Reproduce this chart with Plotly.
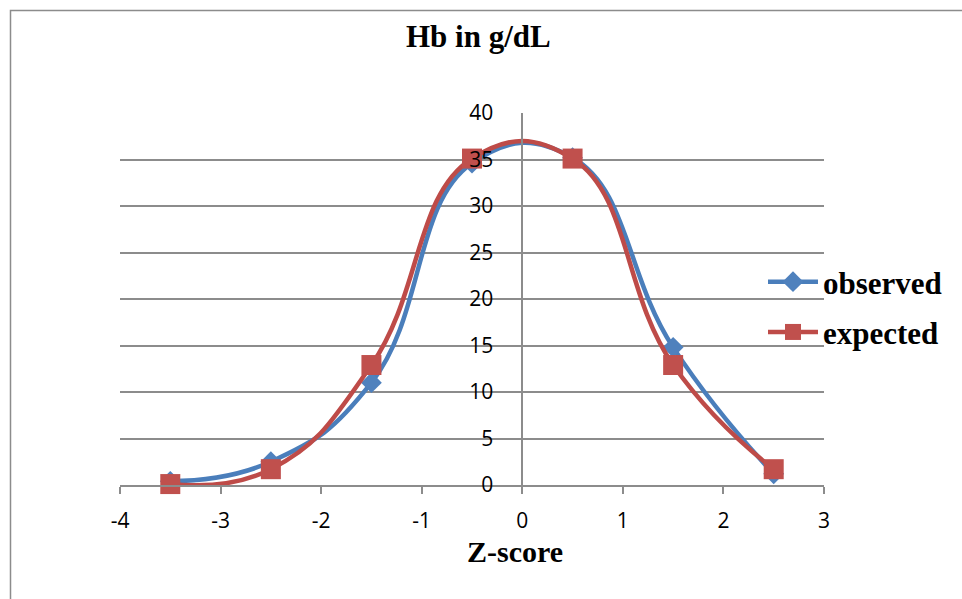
import plotly.graph_objects as go

z_score = [-3.5, -2.5, -1.5, -0.5, 0.5, 1.5, 2.5]
observed = [0.4, 2.5, 11.0, 34.6, 35.2, 14.8, 1.2]
expected = [0.1, 1.7, 12.9, 35.1, 35.1, 12.9, 1.7]
x_ticks = [-4, -3, -2, -1, 0, 1, 2, 3]
y_ticks = [0, 5, 10, 15, 20, 25, 30, 35, 40]

BOLD = "Liberation Serif"
TICKF = "Open Sans"
GRID = "#8c8c8c"

fig = go.Figure()
fig.add_trace(go.Scatter(
    x=z_score, y=observed, name="observed", mode="lines+markers",
    line=dict(color="#4A7EBB", width=4.5, shape="spline", smoothing=1.3),
    marker=dict(symbol="diamond", size=16, color="#4F81BD", line=dict(width=0)),
    cliponaxis=False, legendgroup="a"))
fig.add_trace(go.Scatter(
    x=z_score, y=expected, name="expected", mode="lines+markers",
    line=dict(color="#BE4B48", width=4.5, shape="spline", smoothing=1.3),
    marker=dict(symbol="square", size=20, color="#C0504D", line=dict(width=0)),
    cliponaxis=False, legendgroup="b"))

W, H = 962, 599
L, R, T, B = 120, 824, 113, 485
pw, ph = R - L, B - T

def px(xp):
    return (xp - L) / pw

def py(yp):
    return (B - yp) / ph

fig.update_layout(
    width=W, height=H,
    margin=dict(l=L, r=W - R, t=T, b=H - B),
    paper_bgcolor="white", plot_bgcolor="white",
    showlegend=True,
    legend=dict(x=px(763), y=py(255), xanchor="left", yanchor="top",
                font=dict(family=BOLD, size=31, color="black", weight="bold"),
                tracegroupgap=7, itemwidth=50, bgcolor="rgba(0,0,0,0)"),
    xaxis=dict(range=[-4, 3], tickvals=x_ticks, ticktext=[str(v) for v in x_ticks],
               showgrid=False, zeroline=False, showline=True, linecolor=GRID, linewidth=1.5,
               ticks="outside", ticklen=7, tickcolor=GRID, tickwidth=1.5,
               ticklabelstandoff=9,
               tickfont=dict(family=TICKF, size=21, color="black")),
    yaxis=dict(range=[0, 40], tickvals=y_ticks, anchor="free", position=4 / 7,
               showgrid=True, gridcolor=GRID, gridwidth=1.5, zeroline=False,
               showline=True, linecolor=GRID, linewidth=1.5,
               ticks="", ticklabelstandoff=24,
               tickfont=dict(family=TICKF, size=21, color="black")),
    shapes=[dict(type="rect", xref="paper", yref="paper",
                 x0=px(10.5), y0=py(604), x1=px(968), y1=py(10.5),
                 line=dict(color=GRID, width=1.5), layer="below")],
    annotations=[
        dict(text="<b>Hb in g/dL</b>", xref="paper", yref="paper",
             x=px(479), y=py(37), xanchor="center", yanchor="middle", showarrow=False,
             font=dict(family=BOLD, size=31, color="black")),
        dict(text="<b>Z-score</b>", xref="paper", yref="paper",
             x=px(515), y=py(551), xanchor="center", yanchor="middle", showarrow=False,
             font=dict(family=BOLD, size=30, color="black")),
    ],
)

fig.write_html("out.html")
